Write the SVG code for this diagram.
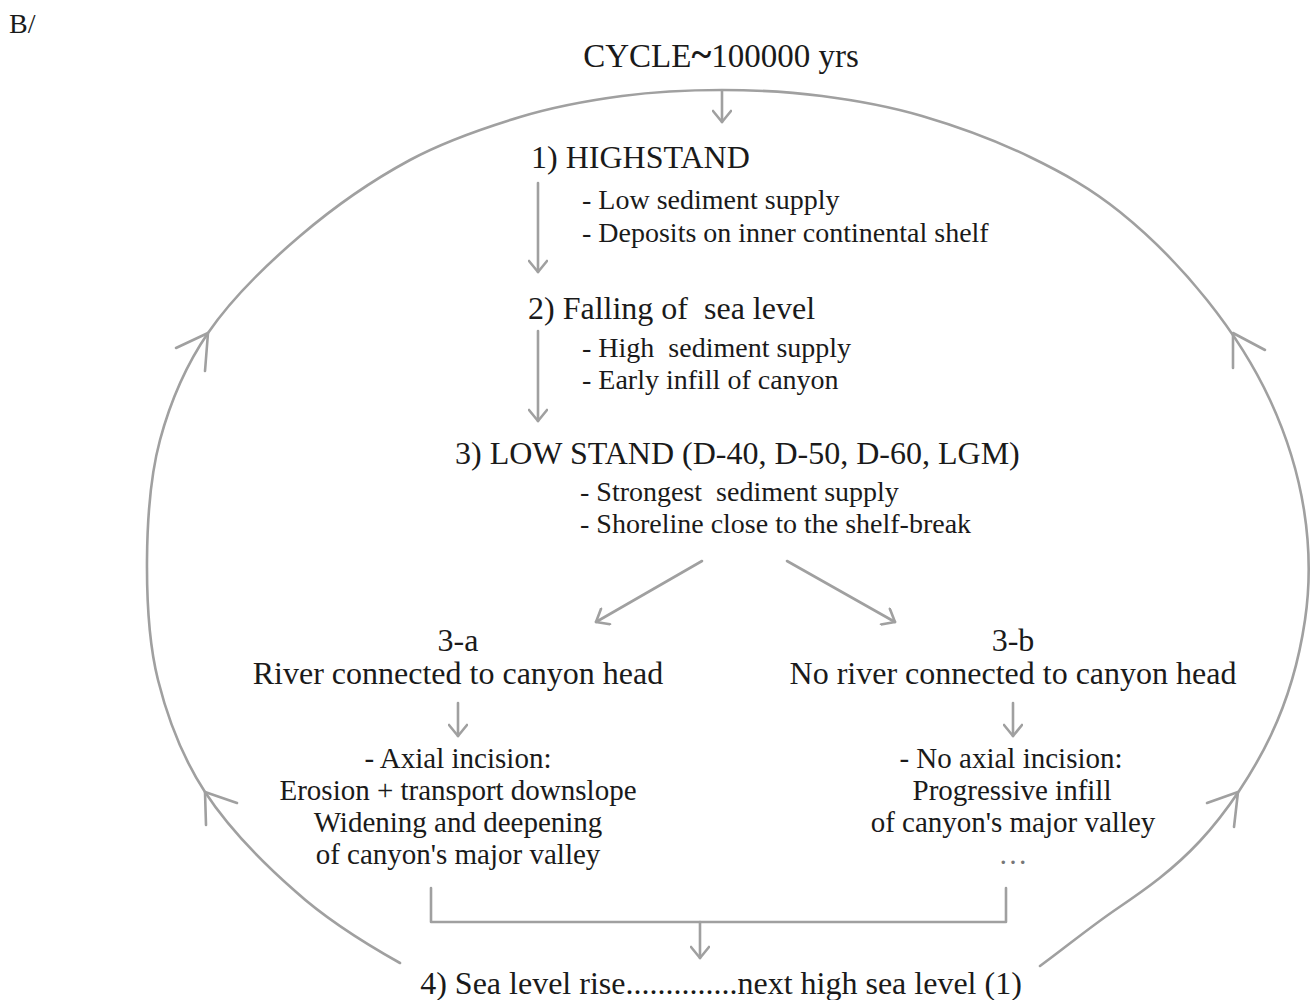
<svg xmlns="http://www.w3.org/2000/svg" width="1315" height="1000" viewBox="0 0 1315 1000">
<style>
text{font-family:"Liberation Serif","Times New Roman",serif;fill:#1a1a1a}
.h{font-size:32px}
.b{font-size:28px}
.d{font-size:29px}
.c{text-anchor:middle}
.ln{fill:none;stroke:#a0a0a0;stroke-width:2.6;stroke-linecap:round;stroke-linejoin:round}
.ar{fill:none;stroke:#a0a0a0;stroke-width:2.6;stroke-linecap:round;stroke-linejoin:round;marker-end:url(#ah)}
</style>
<defs>
<marker id="ah" viewBox="-13 -10 16 20" refX="0" refY="0" markerWidth="16" markerHeight="20" markerUnits="userSpaceOnUse" orient="auto">
<path d="M-11,-9 L0,0 L-11,9" fill="none" stroke="#a0a0a0" stroke-width="2.6" stroke-linecap="round" stroke-linejoin="round"/>
</marker>
</defs>
<text x="9" y="33" style="font-size:28px">B/</text>
<g id="cycle"><text x="721" y="67" class="c" style="font-size:33px">CYCLE<tspan font-weight="bold" font-size="38">~</tspan>100000 yrs</text></g>
<g id="connectors">
<path id="loop" class="ln" d="M400,963 C366,944 327,920 295,891 C262,862 228.2,827.5 205,792 C181.8,756.5 167.7,718.7 158,680 C148.3,641.3 146.7,600 147,560 C147.3,520 149.8,477.8 160,440 C170.2,402.2 184.7,367 208,333 C231.3,299 266.3,264.8 300,236 C333.7,207.2 373.3,179.8 410,160 C446.7,140.2 484.7,127.7 520,117 C555.3,106.3 588.3,100.5 622,96 C655.7,91.5 688.7,90 722,90 C755.3,90 788.7,91.7 822,96 C855.3,100.3 887.3,105.8 922,116 C956.7,126.2 997,141 1030,157 C1063,173 1090.5,188.2 1120,212 C1149.5,235.8 1182,268.7 1207,300 C1232,331.3 1253.8,365 1270,400 C1286.2,435 1298.2,473.3 1304,510 C1309.8,546.7 1310.5,582.5 1305,620 C1299.5,657.5 1288.5,698 1271,735 C1253.5,772 1227,812 1200,841 C1173,870 1146,889 1118,908 C1090,927 1066,947 1040,966"/>
<polyline class="ln" points="176,348 208,333 205,371"/>
<polyline class="ln" points="237,803 205,792 206,825"/>
<polyline class="ln" points="1265,350 1233,333 1233,368"/>
<polyline class="ln" points="1207,803 1238,792 1234,827"/>
<line class="ar" x1="722" y1="91" x2="722" y2="122"/>
<line class="ar" x1="538" y1="183" x2="538" y2="272"/>
<line class="ar" x1="538" y1="331" x2="538" y2="421"/>
<line class="ar" x1="702" y1="561" x2="596" y2="622"/>
<line class="ar" x1="787" y1="561" x2="895" y2="622"/>
<line class="ar" x1="458" y1="703" x2="458" y2="736"/>
<line class="ar" x1="1013" y1="703" x2="1013" y2="736"/>
<polyline class="ln" points="431,888 431,922 1006,922 1006,888"/>
<line class="ar" x1="700" y1="922" x2="700" y2="958"/>
</g>
<g id="n1"><text x="531" y="168" class="h">1) HIGHSTAND</text>
<text x="582" y="209" class="b">- Low sediment supply</text>
<text x="582" y="242" class="b">- Deposits on inner continental shelf</text></g>
<g id="n2"><text x="528" y="319" class="h" xml:space="preserve">2) Falling of  sea level</text>
<text x="582" y="357" class="b" xml:space="preserve">- High  sediment supply</text>
<text x="582" y="389" class="b">- Early infill of canyon</text></g>
<g id="n3"><text x="455" y="464" class="h">3) LOW STAND (D-40, D-50, D-60, LGM)</text>
<text x="580" y="501" class="b" xml:space="preserve">- Strongest  sediment supply</text>
<text x="580" y="533" class="b">- Shoreline close to the shelf-break</text></g>
<g id="n3a"><text x="458" y="651" class="h c">3-a</text>
<text x="458" y="684" class="h c">River connected to canyon head</text></g>
<g id="n3b"><text x="1013" y="651" class="h c">3-b</text>
<text x="1013" y="684" class="h c">No river connected to canyon head</text></g>
<g id="n3a-detail"><text x="458" y="768" class="d c">- Axial incision:</text>
<text x="458" y="800" class="d c">Erosion + transport downslope</text>
<text x="458" y="832" class="d c">Widening and deepening</text>
<text x="458" y="864" class="d c">of canyon's major valley</text></g>
<g id="n3b-detail"><text x="1011" y="768" class="d c">- No axial incision:</text>
<text x="1012" y="800" class="d c">Progressive infill</text>
<text x="1013" y="832" class="d c">of canyon's major valley</text>
<text x="1013" y="864" class="d c" style="fill:#777">…</text></g>
<g id="n4"><text x="721" y="994" class="h c">4) Sea level rise..............next high sea level (1)</text></g>
</svg>
